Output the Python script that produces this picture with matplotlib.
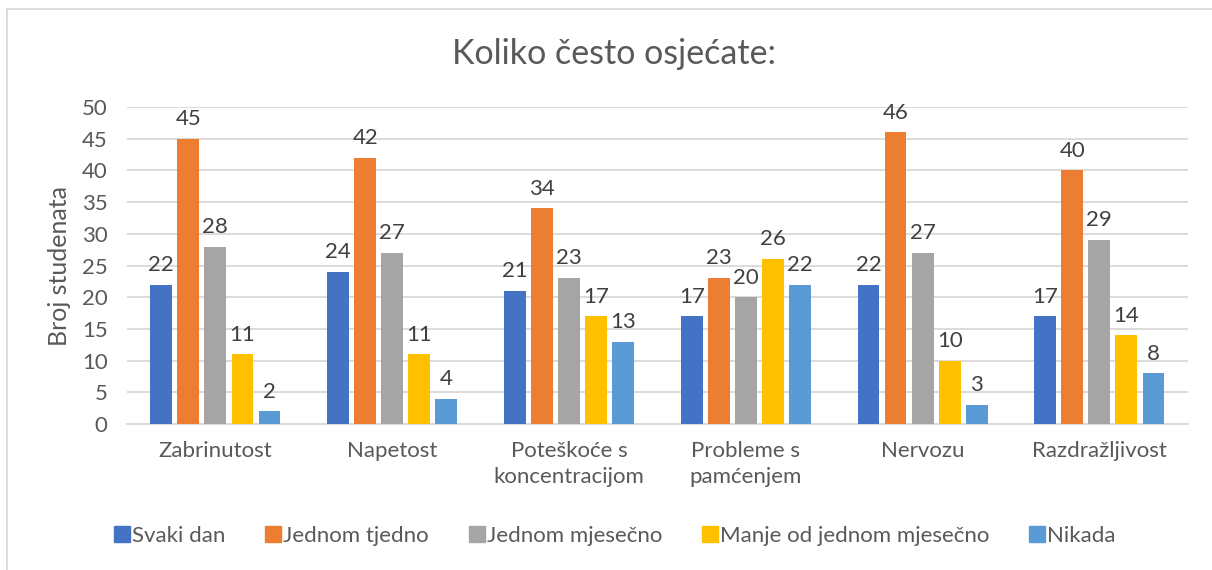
import matplotlib
matplotlib.use("Agg")
import matplotlib.pyplot as plt
import numpy as np
from matplotlib.lines import Line2D

categories = ["Zabrinutost", "Napetost", "Poteškoće s\nkoncentracijom",
              "Probleme s\npamćenjem", "Nervozu", "Razdražljivost"]
series_names = ["Svaki dan", "Jednom tjedno", "Jednom mjesečno",
                "Manje od jednom mjesečno", "Nikada"]
svaki_dan = [22, 24, 21, 17, 22, 17]
jednom_tjedno = [45, 42, 34, 23, 46, 40]
jednom_mjesecno = [28, 27, 23, 20, 27, 29]
manje_od = [11, 11, 17, 26, 10, 14]
nikada = [2, 4, 13, 22, 3, 8]
series_values = [svaki_dan, jednom_tjedno, jednom_mjesecno, manje_od, nikada]
colors = ["#4472C4", "#ED7D31", "#A5A5A5", "#FFC000", "#5B9BD5"]
yticks = [0, 5, 10, 15, 20, 25, 30, 35, 40, 45, 50]

plt.rcParams['font.family'] = ['Lato', 'DejaVu Sans']
txt = "#595959"

fig = plt.figure(figsize=(12.12, 5.70), dpi=100)
ax = fig.add_axes([0.1048, 0.256, 0.8752, 0.5563])

x = np.arange(len(categories))
pitch = 0.153
width = 0.124
for i, (vals, c) in enumerate(zip(series_values, colors)):
    pos = x + (i - 2) * pitch
    bars = ax.bar(pos, vals, width=width, color=c, label=series_names[i], zorder=3)
    for b, v in zip(bars, vals):
        ax.annotate(str(v), (b.get_x() + b.get_width() / 2, v), xytext=(0, 7),
                    textcoords="offset points", ha="center", va="bottom",
                    fontsize=16, color="#404040")

ax.set_xlim(-0.5, len(categories) - 0.5)
ax.set_ylim(0, 50)
ax.set_yticks(yticks)
ax.yaxis.grid(True, color="#D9D9D9", linewidth=1.3, zorder=0)
ax.set_axisbelow(True)
for s in ["top", "right", "left"]:
    ax.spines[s].set_visible(False)
ax.spines["bottom"].set_color("#D9D9D9")
ax.spines["bottom"].set_linewidth(1.3)
ax.tick_params(axis="both", length=0, labelsize=16, colors=txt)
ax.tick_params(axis="y", pad=14)
ax.tick_params(axis="x", pad=12)
ax.set_xticks(x)
ax.set_xticklabels(categories, linespacing=1.4)
ax.set_ylabel("Broj studenata", fontsize=18, color=txt, labelpad=8)

fig.text(0.507, 0.905, "Koliko često osjećate:", ha="center", va="center",
         fontsize=24.5, color=txt)

handles = [Line2D([0], [0], marker="s", linestyle="none", markersize=11,
                  markerfacecolor=c, markeredgecolor=c) for c in colors]
fig.legend(handles, series_names, loc="center", bbox_to_anchor=(0.507, 0.06),
           ncol=5, frameon=False, fontsize=16, labelcolor=txt,
           handletextpad=0.05, columnspacing=1.75, handlelength=0.8)

# chart border
fig.add_artist(Line2D([0.006, 1.0], [0.984, 0.984], color="#D9D9D9", linewidth=1.3,
                      transform=fig.transFigure))
fig.add_artist(Line2D([0.006, 0.006], [0.0, 0.984], color="#D9D9D9", linewidth=1.3,
                      transform=fig.transFigure))

fig.savefig("out.png", dpi=100)
